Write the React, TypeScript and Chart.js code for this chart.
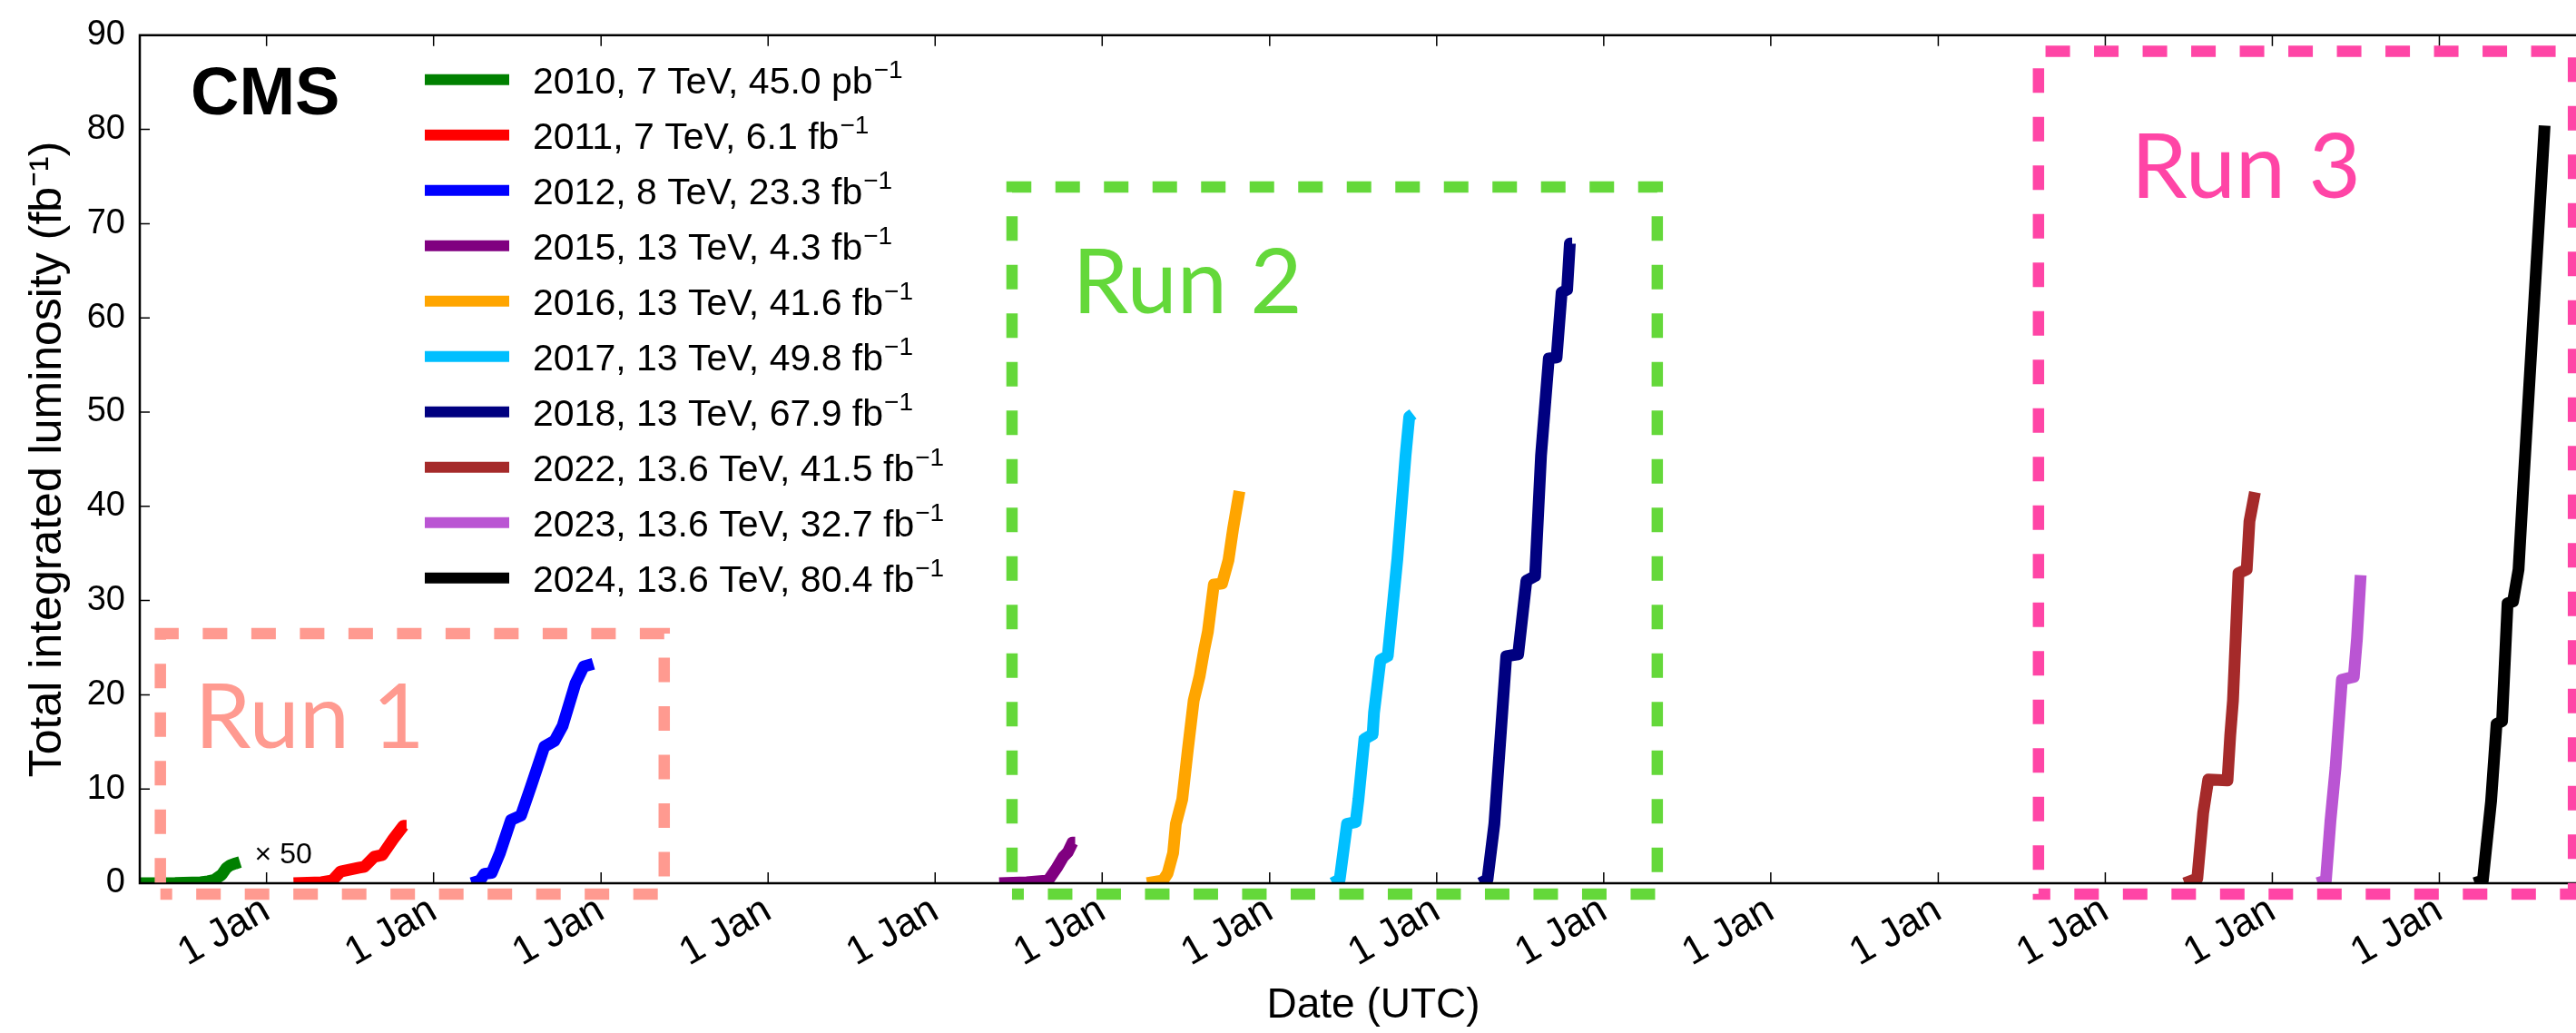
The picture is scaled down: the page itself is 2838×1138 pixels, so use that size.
import React, { useEffect, useRef } from "react";
import { Chart, registerables } from "chart.js";

Chart.register(...registerables);

// ---------- data ----------
const LABELS = [
  "2010, 7 TeV, 45.0 pb⁻¹",
  "2011, 7 TeV, 6.1 fb⁻¹",
  "2012, 8 TeV, 23.3 fb⁻¹",
  "2015, 13 TeV, 4.3 fb⁻¹",
  "2016, 13 TeV, 41.6 fb⁻¹",
  "2017, 13 TeV, 49.8 fb⁻¹",
  "2018, 13 TeV, 67.9 fb⁻¹",
  "2022, 13.6 TeV, 41.5 fb⁻¹",
  "2023, 13.6 TeV, 32.7 fb⁻¹",
  "2024, 13.6 TeV, 80.4 fb⁻¹",
];

const COLORS = [
  "#008000", "#ff0000", "#0000ff", "#800080", "#ffa500",
  "#00bfff", "#000080", "#a52a2a", "#ba55d3", "#000000",
];

// 2010 values are shown multiplied by 50
const LUMI_2010: [string, number][] = [
  ["2010-03-30", 0], ["2010-06-15", 0.02], ["2010-08-10", 0.1], ["2010-08-26", 0.2],
  ["2010-09-09", 0.35], ["2010-09-25", 0.9], ["2010-10-05", 1.6], ["2010-10-13", 1.9],
  ["2010-10-25", 2.1], ["2010-11-04", 2.25],
];
const LUMI_2011: [string, number][] = [
  ["2011-03-01", 0], ["2011-05-01", 0.1], ["2011-05-25", 0.3], ["2011-06-12", 1.25],
  ["2011-07-22", 1.65], ["2011-08-03", 1.75], ["2011-08-24", 2.8], ["2011-09-11", 3.0],
  ["2011-10-05", 4.7], ["2011-10-27", 6.1], ["2011-11-03", 6.1],
];
const LUMI_2012: [string, number][] = [
  ["2012-03-24", 0], ["2012-04-12", 0.3], ["2012-04-21", 1.0], ["2012-05-07", 1.1],
  ["2012-05-25", 3.2], ["2012-06-18", 6.7], ["2012-07-10", 7.2], ["2012-08-01", 10.3],
  ["2012-08-30", 14.5], ["2012-09-21", 15.1], ["2012-10-09", 16.7], ["2012-11-06", 21.2],
  ["2012-11-24", 23.0], ["2012-12-15", 23.3],
];
const LUMI_2015: [string, number][] = [
  ["2015-05-21", 0], ["2015-07-20", 0.1], ["2015-09-05", 0.3], ["2015-09-24", 1.65],
  ["2015-10-08", 2.8], ["2015-10-18", 3.3], ["2015-10-28", 4.3], ["2015-11-03", 4.3],
];
const LUMI_2016: [string, number][] = [
  ["2016-04-08", 0], ["2016-05-13", 0.3], ["2016-05-23", 1.05], ["2016-06-04", 3.2],
  ["2016-06-10", 6.3], ["2016-06-24", 8.9], ["2016-07-06", 14.1], ["2016-07-19", 19.4],
  ["2016-08-01", 22.0], ["2016-08-11", 24.8], ["2016-08-19", 26.7], ["2016-09-01", 31.7],
  ["2016-09-19", 31.8], ["2016-10-03", 34.3], ["2016-10-13", 37.6], ["2016-10-27", 41.6],
];
const LUMI_2017: [string, number][] = [
  ["2017-05-18", 0], ["2017-06-03", 0.4], ["2017-06-19", 6.3], ["2017-07-08", 6.5],
  ["2017-07-14", 8.9], ["2017-07-27", 15.3], ["2017-08-14", 15.8], ["2017-08-17", 18.1],
  ["2017-08-31", 23.7], ["2017-09-16", 24.1], ["2017-10-07", 34.4], ["2017-10-25", 45.4],
  ["2017-11-02", 49.5], ["2017-11-10", 49.8],
];
const LUMI_2018: [string, number][] = [
  ["2018-04-06", 0], ["2018-04-22", 0.4], ["2018-05-07", 6.3], ["2018-06-02", 24.1],
  ["2018-06-28", 24.3], ["2018-07-16", 32.1], ["2018-08-04", 32.6], ["2018-08-17", 45.4],
  ["2018-09-03", 55.7], ["2018-09-20", 55.8], ["2018-10-01", 62.7], ["2018-10-13", 63.0],
  ["2018-10-19", 67.9], ["2018-10-24", 67.9],
];
const LUMI_2022: [string, number][] = [
  ["2022-06-23", 0], ["2022-07-21", 0.5], ["2022-08-03", 7.5], ["2022-08-14", 11.0],
  ["2022-09-25", 10.9], ["2022-10-01", 15.7], ["2022-10-07", 19.4], ["2022-10-19", 32.9],
  ["2022-11-06", 33.3], ["2022-11-12", 38.4], ["2022-11-24", 41.5],
];
const LUMI_2023: [string, number][] = [
  ["2023-04-10", 0], ["2023-04-28", 0.3], ["2023-05-08", 6.6], ["2023-05-19", 12.2],
  ["2023-06-02", 21.6], ["2023-06-28", 21.9], ["2023-07-05", 26.0], ["2023-07-13", 32.7],
];
const LUMI_2024: [string, number][] = [
  ["2024-03-18", 0], ["2024-04-05", 0.3], ["2024-04-23", 8.7], ["2024-05-05", 16.9],
  ["2024-05-17", 17.2], ["2024-05-29", 29.7], ["2024-06-10", 29.9], ["2024-06-22", 33.3],
  ["2024-07-04", 43.5], ["2024-08-18", 80.4],
];

const SERIES = [
  LUMI_2010, LUMI_2011, LUMI_2012, LUMI_2015, LUMI_2016,
  LUMI_2017, LUMI_2018, LUMI_2022, LUMI_2023, LUMI_2024,
];

const X_MIN = "2010-03-30";
const X_MAX = "2025-01-01";
const TICK_YEARS = [2011, 2012, 2013, 2014, 2015, 2016, 2017, 2018, 2019, 2020, 2021, 2022, 2023, 2024];
const TICK_LABEL = "1 Jan";
const Y_MIN = 0;
const Y_MAX = 90;
const Y_STEP = 10;

const X_TITLE = "Date (UTC)";
const Y_TITLE = "Total integrated luminosity (fb⁻¹)";
const EXPERIMENT = "CMS";

const RUN_NAMES = ["Run 1", "Run 2", "Run 3"];
const RUN_COLORS = ["#ff9a90", "#64d83a", "#ff45a6"];
const RUN_FROM = ["2010-05-14", "2015-06-18", "2021-08-08"];
const RUN_TO = ["2013-05-19", "2019-04-28", "2024-10-20"];
const RUN_TOP = [26.5, 73.9, 88.3];
const RUN_BOTTOM = -1.15;
const RUN_LABEL_AT: [string, number][] = [
  ["2010-07-28", 14.4],
  ["2015-10-28", 60.5],
  ["2022-02-26", 72.7],
];
const SCALE_NOTE = "× 50";
const SCALE_NOTE_AT: [string, number] = ["2010-12-06", 3.0];

// ---------- helpers ----------
const toMs = (s: string) => {
  const [y, m, d] = s.split("-").map(Number);
  return Date.UTC(y, m - 1, d);
};

const FONT = "'Liberation Sans', Arial, Helvetica, sans-serif";

const CANVAS_W = 2874;
const CANVAS_H = 1138;

const overlayPlugin = {
  id: "overlay",
  afterDraw(chart: any) {
    const { ctx, chartArea: a, scales } = chart;
    const xs = scales.x;
    const ys = scales.y;
    ctx.save();

    // frame
    ctx.strokeStyle = "#000";
    ctx.lineWidth = 2.5;
    ctx.setLineDash([]);
    ctx.strokeRect(a.left, a.top, a.right - a.left, a.bottom - a.top);

    // inward ticks
    ctx.lineWidth = 1.5;
    ctx.beginPath();
    xs.ticks.forEach((t: any) => {
      const px = xs.getPixelForValue(t.value);
      ctx.moveTo(px, a.bottom);
      ctx.lineTo(px, a.bottom - 12);
      ctx.moveTo(px, a.top);
      ctx.lineTo(px, a.top + 12);
    });
    ys.ticks.forEach((t: any) => {
      const py = ys.getPixelForValue(t.value);
      ctx.moveTo(a.left, py);
      ctx.lineTo(a.left + 11, py);
      ctx.moveTo(a.right, py);
      ctx.lineTo(a.right - 11, py);
    });
    ctx.stroke();

    // Run boxes
    RUN_NAMES.forEach((_, i) => {
      const x0 = xs.getPixelForValue(toMs(RUN_FROM[i]));
      const x1 = xs.getPixelForValue(toMs(RUN_TO[i]));
      const yt = ys.getPixelForValue(RUN_TOP[i]);
      const yb = ys.getPixelForValue(RUN_BOTTOM);
      ctx.strokeStyle = RUN_COLORS[i];
      ctx.lineWidth = 12.5;
      ctx.lineCap = "butt";
      ctx.setLineDash([27, 26.5]);
      ctx.lineDashOffset = 14;
      ctx.beginPath();
      ctx.moveTo(x0, yb);
      ctx.lineTo(x1, yb);
      ctx.lineTo(x1, yt);
      ctx.lineTo(x0, yt);
      ctx.closePath();
      ctx.stroke();
    });
    ctx.setLineDash([]);
    ctx.lineDashOffset = 0;

    // Run labels
    ctx.textAlign = "left";
    ctx.textBaseline = "alphabetic";
    ctx.font = "99px Lato, 'Open Sans', sans-serif";
    RUN_NAMES.forEach((name, i) => {
      ctx.fillStyle = RUN_COLORS[i];
      ctx.fillText(
        name,
        xs.getPixelForValue(toMs(RUN_LABEL_AT[i][0])),
        ys.getPixelForValue(RUN_LABEL_AT[i][1])
      );
    });

    // x50 note
    ctx.fillStyle = "#000";
    ctx.font = `32px ${FONT}`;
    ctx.textBaseline = "middle";
    ctx.fillText(
      SCALE_NOTE,
      xs.getPixelForValue(toMs(SCALE_NOTE_AT[0])),
      ys.getPixelForValue(SCALE_NOTE_AT[1])
    );

    // CMS
    ctx.textBaseline = "alphabetic";
    ctx.font = `bold 74px ${FONT}`;
    ctx.fillText(EXPERIMENT, a.left + 56, a.top + 87);

    // legend
    const lx0 = a.left + 314;
    const lx1 = a.left + 407;
    const tx = a.left + 433;
    chart.data.datasets.forEach((ds: any, i: number) => {
      const cy = a.top + 49 + 61 * i;
      ctx.strokeStyle = ds.borderColor;
      ctx.lineWidth = 12;
      ctx.lineCap = "butt";
      ctx.beginPath();
      ctx.moveTo(lx0, cy);
      ctx.lineTo(lx1, cy);
      ctx.stroke();

      const label: string = ds.label;
      const parts = label.split("⁻¹");
      ctx.fillStyle = "#000";
      ctx.font = `41px ${FONT}`;
      ctx.textBaseline = "alphabetic";
      const base = cy + 15;
      ctx.fillText(parts[0], tx, base);
      if (parts.length > 1) {
        const w = ctx.measureText(parts[0]).width;
        ctx.font = `28px ${FONT}`;
        ctx.fillText("−1", tx + w + 1, base - 17);
      }
    });

    ctx.restore();
  },
};

export default function App() {
  const ref = useRef<HTMLCanvasElement | null>(null);

  useEffect(() => {
    if (!ref.current) return;
    const datasets = SERIES.map((s, i) => ({
      label: LABELS[i],
      data: s.map(([d, v]) => ({ x: toMs(d), y: v })),
      borderColor: COLORS[i],
      backgroundColor: COLORS[i],
      borderWidth: 13,
      pointRadius: 0,
      tension: 0,
      fill: false,
      clip: 0,
      borderCapStyle: "butt",
      borderJoinStyle: "round",
    }));

    const chart = new Chart(ref.current, {
      type: "line",
      data: { datasets } as any,
      options: {
        responsive: false,
        maintainAspectRatio: false,
        animation: false,
        devicePixelRatio: 1,
        layout: { padding: { left: 0, top: 33, right: 2, bottom: 0 } },
        plugins: {
          legend: { display: false },
          tooltip: { enabled: false },
        },
        scales: {
          x: {
            type: "linear",
            min: toMs(X_MIN),
            max: toMs(X_MAX),
            grid: { display: false, drawTicks: false },
            border: { display: false },
            afterBuildTicks: (axis: any) => {
              axis.ticks = TICK_YEARS.map((y) => ({ value: Date.UTC(y, 0, 1) }));
            },
            afterFit: (axis: any) => {
              axis.height = CANVAS_H - 973;
            },
            ticks: {
              autoSkip: false,
              minRotation: 30,
              maxRotation: 30,
              padding: 4,
              color: "#000",
              font: { family: FONT, size: 44 },
              callback: () => TICK_LABEL,
            },
            title: {
              display: true,
              text: X_TITLE,
              color: "#000",
              font: { family: FONT, size: 46 },
              padding: { top: 0, bottom: 2 },
            },
          },
          y: {
            type: "linear",
            min: Y_MIN,
            max: Y_MAX,
            grid: { display: false, drawTicks: false },
            border: { display: false },
            afterFit: (axis: any) => {
              axis.width = 154;
            },
            ticks: {
              stepSize: Y_STEP,
              padding: 16,
              color: "#000",
              font: { family: FONT, size: 38 },
            },
            title: {
              display: true,
              text: Y_TITLE,
              color: "#000",
              font: { family: FONT, size: 50 },
              padding: { top: 23, bottom: 0 },
            },
          },
        },
      } as any,
      plugins: [overlayPlugin],
    });
    return () => chart.destroy();
  }, []);

  return (
    <div
      style={{
        position: "fixed",
        left: 0,
        top: 0,
        width: 2838,
        height: 1138,
        overflow: "hidden",
        background: "#fff",
      }}
    >
      <canvas
        ref={ref}
        width={CANVAS_W}
        height={CANVAS_H}
        style={{ width: CANVAS_W, height: CANVAS_H, display: "block" }}
      />
    </div>
  );
}
